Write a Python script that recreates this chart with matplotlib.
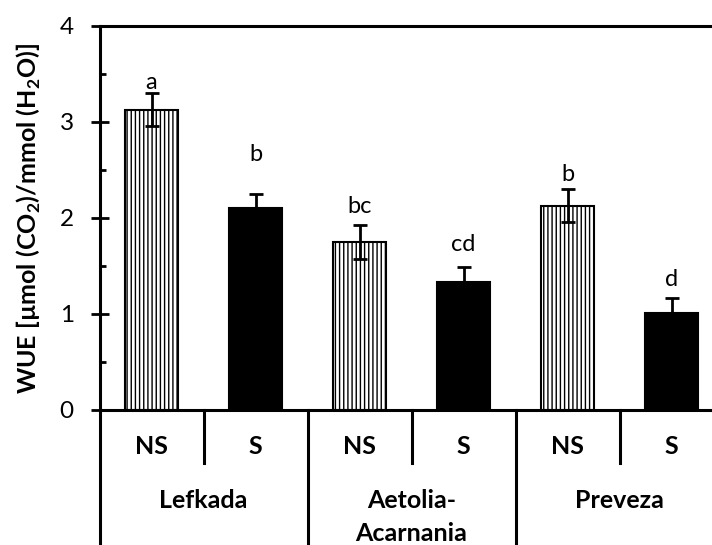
import matplotlib
matplotlib.use("Agg")
import matplotlib.pyplot as plt
import numpy as np

# 数据
regions = ['Lefkada', 'Aetolia-\nAcarnania', 'Preveza']
treatments = ['NS', 'S']
wue_ns = [3.13, 1.75, 2.13]
wue_s = [2.10, 1.33, 1.01]
err_ns = [0.17, 0.18, 0.17]
err_s = [0.15, 0.16, 0.16]
letters_ns = ['a', 'bc', 'b']
letters_s = ['b', 'cd', 'd']
letter_y_ns = [3.34, 2.05, 2.39]
letter_y_s = [2.59, 1.66, 1.29]

plt.rcParams['font.family'] = ['Lato', 'DejaVu Sans']
plt.rcParams['mathtext.fontset'] = 'custom'
plt.rcParams['mathtext.rm'] = 'Lato'
plt.rcParams['mathtext.bf'] = 'Lato:bold'
plt.rcParams['hatch.linewidth'] = 1.0

fig = plt.figure(figsize=(7.12, 5.45), dpi=100)
ax = fig.add_axes([99.5 / 712, 1 - 410 / 545, 624 / 712, 384 / 545])

n = len(regions)
x_ns = np.arange(n) * 2
x_s = np.arange(n) * 2 + 1
bar_width = 0.51

ax.bar(x_ns, wue_ns, width=bar_width, color='white', edgecolor='black',
       linewidth=1.5, hatch='||||', zorder=2)
ax.bar(x_s, wue_s, width=bar_width, color='black', edgecolor='black',
       linewidth=1.5, zorder=2)
ax.errorbar(x_ns, wue_ns, yerr=err_ns, fmt='none', ecolor='black',
            elinewidth=2, capsize=4.7, capthick=2, zorder=3)
ax.errorbar(x_s, wue_s, yerr=err_s, fmt='none', ecolor='black',
            elinewidth=2, capsize=4.7, capthick=2, zorder=3)

# 显著性字母
for i in range(n):
    ax.text(x_ns[i], letter_y_ns[i], letters_ns[i], ha='center', va='baseline', fontsize=17)
    ax.text(x_s[i], letter_y_s[i], letters_s[i], ha='center', va='baseline', fontsize=17)

ax.set_xlim(-0.5, 2 * n - 0.5)
ax.set_ylim(0, 4)
ax.set_xticks([])
ax.set_yticks([0, 1, 2, 3, 4])
ax.set_yticks(np.arange(0.5, 4, 1), minor=True)
ax.tick_params(axis='y', which='major', direction='inout', length=13, width=2,
               labelsize=17.5, pad=12)
ax.tick_params(axis='y', which='minor', direction='in', length=4.5, width=2)

for side in ['left', 'bottom', 'top']:
    ax.spines[side].set_linewidth(2.2)
ax.spines['right'].set_visible(False)

ax.set_ylabel(r'WUE [µmol (CO$_\mathbf{2}$)/mmol (H$_\mathbf{2}$O)]',
              fontsize=18, fontweight='bold', labelpad=12)

# 分类轴下方的分隔线与标签
ax.plot([-0.5, -0.5], [0, -1.5], color='black', lw=2.2, clip_on=False)
for i in range(1, 2 * n):
    bottom = -1.5 if i % 2 == 0 else -0.55
    ax.plot([i - 0.5, i - 0.5], [0, bottom], color='black', lw=2.2, clip_on=False)

for i in range(n):
    ax.text(x_ns[i], -0.458, treatments[0], ha='center', va='baseline',
            fontsize=18, fontweight='bold')
    ax.text(x_s[i], -0.458, treatments[1], ha='center', va='baseline',
            fontsize=18, fontweight='bold')
    for j, line in enumerate(regions[i].split('\n')):
        ax.text((x_ns[i] + x_s[i]) / 2, -1.02 - j * 0.34, line, ha='center',
                va='baseline', fontsize=18, fontweight='bold')

fig.savefig('out.png', dpi=100)
